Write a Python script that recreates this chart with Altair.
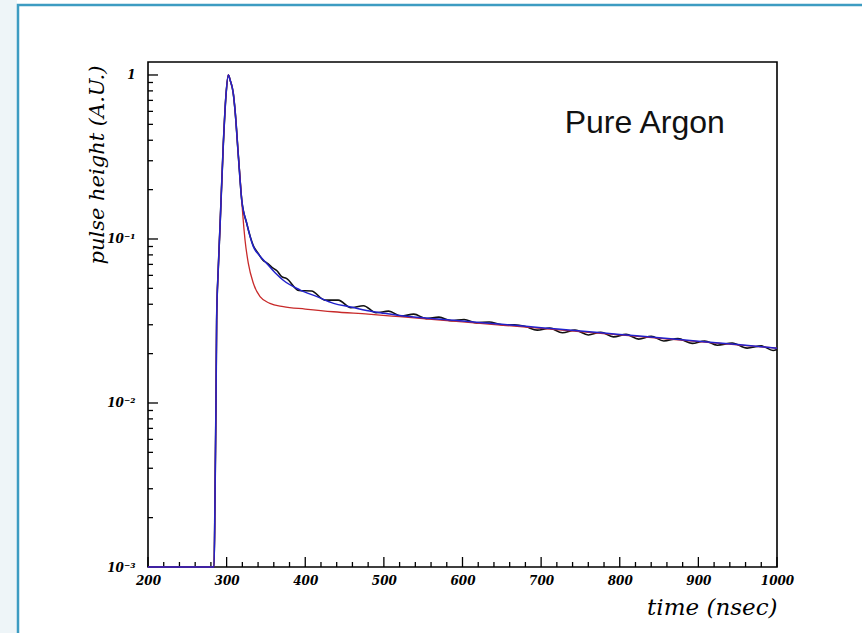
import altair as alt
import pandas as pd

# ---------------- data ----------------
time_blue = [200, 284.0, 285.2, 286.5, 287.3, 289.3, 291.6, 295.8, 299.2, 302.2, 304.5,
             308.5, 310.7, 315.0, 319.2, 325.5, 334, 342, 351, 362, 372, 393, 415, 436,
             458, 478, 500, 520, 560, 600, 650, 700, 750, 800, 850, 900, 950, 1000]
fit_blue = [0.001, 0.001, 0.00257, 0.0104, 0.032, 0.0647, 0.119, 0.38, 0.755, 1.0, 0.93,
            0.77, 0.61, 0.318, 0.173, 0.125, 0.0898, 0.079, 0.071, 0.062, 0.056, 0.049, 0.0445, 0.0405,
            0.0385, 0.0366, 0.0352, 0.0342, 0.0328, 0.0316, 0.0302, 0.0288, 0.0275, 0.0262, 0.0250,
            0.0238, 0.0227, 0.0216]

time_red = [200, 284.0, 285.2, 286.5, 287.3, 289.3, 291.6, 295.8, 299.2, 302.2, 304.5,
            308.5, 310.7, 315.0, 319.2, 320.4, 323.4, 327.6, 334, 342.5, 355, 372, 400, 436,
            480, 520, 600, 700, 800, 900, 1000]
fit_red = [0.001, 0.001, 0.00257, 0.0104, 0.032, 0.0647, 0.119, 0.38, 0.755, 1.0, 0.93,
           0.77, 0.61, 0.318, 0.173, 0.1435, 0.0986, 0.071, 0.0537, 0.0445, 0.0405, 0.0387, 0.0374, 0.0360,
           0.0348, 0.0336, 0.0312, 0.0285, 0.0260, 0.0237, 0.0216]

time_data = [200, 284.0, 285.2, 286.5, 287.3, 289.3, 291.6, 295.8, 299.2, 302.2, 304.5,
             308.5, 310.7, 315.0, 319.2, 325.5, 334, 340, 346, 352, 358, 364, 370, 376,
             392, 408, 425, 442, 458, 474, 490, 506, 522, 538, 554, 570, 586, 602, 618,
             634, 650, 666, 680, 695, 711, 727, 743, 760, 776, 792, 808, 824, 840, 856,
             874, 892, 908, 924, 943, 962, 980, 995, 1000]
pulse_data = [0.001, 0.001, 0.00257, 0.0104, 0.032, 0.0647, 0.119, 0.38, 0.755, 1.0, 0.93,
              0.77, 0.61, 0.318, 0.173, 0.125, 0.091, 0.082, 0.0745, 0.071, 0.067, 0.064, 0.059, 0.0575,
              0.0485, 0.0482, 0.0424, 0.0424, 0.0381, 0.0392, 0.0355, 0.0363, 0.0339, 0.0348, 0.0327,
              0.0334, 0.0317, 0.0323, 0.0308, 0.0312, 0.0300, 0.0300, 0.0293, 0.0278, 0.0286, 0.0268,
              0.0278, 0.0260, 0.0270, 0.0253, 0.0262, 0.0245, 0.0255, 0.0239, 0.0247, 0.0231, 0.0239,
              0.0225, 0.0232, 0.0216, 0.0223, 0.0209, 0.0212]

x_major = [200, 300, 400, 500, 600, 700, 800, 900, 1000]
x_minor = [220, 240, 260, 280, 320, 340, 360, 380, 420, 440, 460, 480, 520, 540, 560, 580,
           620, 640, 660, 680, 720, 740, 760, 780, 820, 840, 860, 880, 920, 940, 960, 980]
y_major = [0.001, 0.01, 0.1, 1]
y_minor = [0.002, 0.003, 0.004, 0.005, 0.006, 0.007, 0.008, 0.009,
           0.02, 0.03, 0.04, 0.05, 0.06, 0.07, 0.08, 0.09,
           0.2, 0.3, 0.4, 0.5, 0.6, 0.7, 0.8, 0.9]

label_text = ["Pure Argon"]
label_time = [730]
label_pulse = [0.44]

# ---------------- chart ----------------
W, H = 629, 505
xs = alt.Scale(domain=[200, 1000], nice=False, zero=False)
ys = alt.Scale(type="log", domain=[0.001, 1.2], nice=False)

df_blue = pd.DataFrame({"t": time_blue, "v": fit_blue})
df_red = pd.DataFrame({"t": time_red, "v": fit_red})
df_data = pd.DataFrame({"t": time_data, "v": pulse_data})

x_axis = alt.Axis(values=x_major, format="d", ticks=False, domain=False, grid=False,
                  labelFont="DejaVu Serif", labelFontStyle="italic", labelFontWeight="bold",
                  labelFontSize=12, labelPadding=8, labelColor="black",
                  labelFlush=False, labelOverlap=False,
                  title="time (nsec)", titleFont="DejaVu Serif", titleFontStyle="italic",
                  titleFontWeight="normal", titleFontSize=23, titleColor="black",
                  titleAlign="right", titleX=W, titleY=47, titleBaseline="alphabetic")

y_axis = alt.Axis(values=y_major,
                  labelExpr="datum.value > 0.5 ? '1' : datum.value > 0.05 ? '10⁻¹' : datum.value > 0.005 ? '10⁻²' : '10⁻³'",
                  ticks=False, domain=False, grid=False,
                  labelFont="DejaVu Serif", labelFontStyle="italic", labelFontWeight="bold",
                  labelFontSize=12, labelPadding=13, labelColor="black",
                  labelFlush=False, labelOverlap=False, labelBaseline="middle",
                  title="pulse height (A.U.)", titleFont="DejaVu Serif", titleFontStyle="italic",
                  titleFontWeight="normal", titleFontSize=21, titleColor="black",
                  titleAngle=270, titleAlign="right", titleBaseline="middle",
                  titleX=-51, titleY=3)


def X(field):
    return alt.X(field, scale=xs, axis=x_axis)


def Y(field):
    return alt.Y(field, scale=ys, axis=y_axis)


one = pd.DataFrame({"a": [0]})

left_strip = alt.Chart(one).mark_rect(fill="#eef5f8").encode(
    x=alt.value(-148), x2=alt.value(-131), y=alt.value(-62), y2=alt.value(H + 66))
border = alt.Chart(one).mark_rect(fillOpacity=0, stroke="#3d9cc2", strokeWidth=2.5).encode(
    x=alt.value(-130), x2=alt.value(W + 120), y=alt.value(-57), y2=alt.value(H + 120))

data_line = alt.Chart(df_data).mark_line(color="#111111", strokeWidth=1.6, interpolate="monotone").encode(
    x=X("t:Q"), y=Y("v:Q"))
red_line = alt.Chart(df_red).mark_line(color="#c82a2a", strokeWidth=1.3, interpolate="monotone").encode(
    x=X("t:Q"), y=Y("v:Q"))
blue_line = alt.Chart(df_blue).mark_line(color="#2222cc", strokeWidth=1.5, interpolate="monotone").encode(
    x=X("t:Q"), y=Y("v:Q"))

xmaj = alt.Chart(pd.DataFrame({"t": x_major})).mark_rule(color="black", strokeWidth=1.3).encode(
    x=X("t:Q"), y=alt.value(H), y2=alt.value(H - 10))
xmin = alt.Chart(pd.DataFrame({"t": x_minor})).mark_rule(color="black", strokeWidth=1.3).encode(
    x=X("t:Q"), y=alt.value(H), y2=alt.value(H - 5))
ymaj = alt.Chart(pd.DataFrame({"v": y_major})).mark_rule(color="black", strokeWidth=1.3).encode(
    y=Y("v:Q"), x=alt.value(0), x2=alt.value(10))
ymin = alt.Chart(pd.DataFrame({"v": y_minor})).mark_rule(color="black", strokeWidth=1.3).encode(
    y=Y("v:Q"), x=alt.value(0), x2=alt.value(5))

label = alt.Chart(pd.DataFrame({"t": label_time, "v": label_pulse, "s": label_text})).mark_text(
    align="left", baseline="alphabetic", font="Liberation Sans", fontSize=32, color="#111111").encode(
    x=X("t:Q"), y=Y("v:Q"), text="s:N")

chart = alt.layer(left_strip, border, xmin, xmaj, ymin, ymaj, data_line, red_line, blue_line, label).properties(
    width=W, height=H,
    autosize=alt.AutoSizeParams(type="none"),
    padding={"left": 148, "top": 62, "right": 85, "bottom": 66},
    background="white",
).configure_view(stroke="black", strokeWidth=1.6)

chart.save("out.html", embed_options={"renderer": "svg", "actions": False})
